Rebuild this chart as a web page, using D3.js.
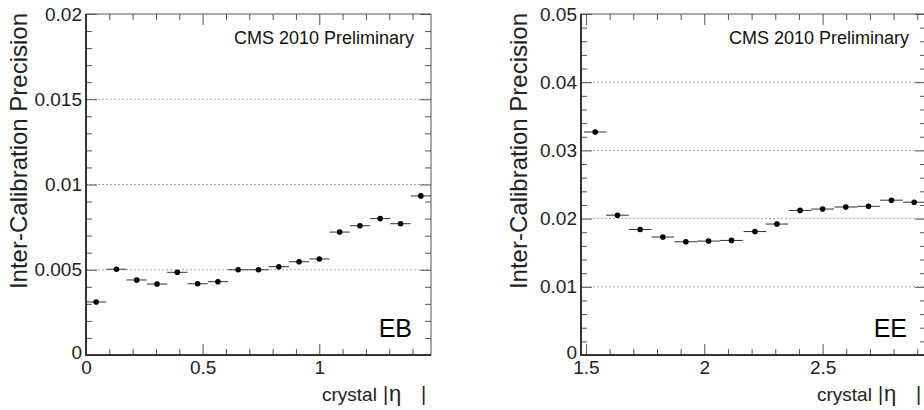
<!DOCTYPE html>
<html>
<head>
<meta charset="utf-8">
<script src="https://cdn.jsdelivr.net/npm/d3@7"></script>
<style>
  html, body { margin: 0; padding: 0; background: #fff; }
  svg { display: block; font-family: "Liberation Sans", Arial, Helvetica, sans-serif; }
</style>
</head>
<body>
<svg id="chart" width="924" height="410"></svg>
<script>
// Barrel (EB): bin centres in |eta| and inter-calibration precision
const ebEta = [0.0435, 0.1305, 0.2175, 0.3045, 0.3915, 0.4785, 0.5655, 0.6525, 0.7395,
               0.8265, 0.9135, 1.0005, 1.0875, 1.1745, 1.2615, 1.3485, 1.4355];
const ebPrecision = [0.00311, 0.00503, 0.00440, 0.00416, 0.00485, 0.00418, 0.00430, 0.00500, 0.00500,
                     0.00518, 0.00547, 0.00563, 0.00721, 0.00758, 0.00800, 0.00770, 0.00933];
const ebHalfBin = 0.0435;

// Endcap (EE): bin centres in |eta| and inter-calibration precision
const eeEta = [1.539, 1.633, 1.729, 1.825, 1.922, 2.018, 2.115, 2.214, 2.307, 2.405,
               2.500, 2.598, 2.694, 2.791, 2.887];
const eePrecision = [0.0327, 0.0205, 0.0184, 0.0173, 0.0166, 0.0167, 0.0168, 0.0181, 0.0192, 0.0212,
                     0.0214, 0.0217, 0.0218, 0.0227, 0.0224];
const eeHalfBin = 0.048;

// Axis ticks
const ebXMajor = [0, 0.5, 1];
const ebXMajorLabels = ["0", "0.5", "1"];
const ebXMinor = [0.1, 0.2, 0.3, 0.4, 0.6, 0.7, 0.8, 0.9, 1.1, 1.2, 1.3, 1.4];
const ebYMajor = [0, 0.005, 0.01, 0.015, 0.02];
const ebYMajorLabels = ["0", "0.005", "0.01", "0.015", "0.02"];
const ebYMinor = [0.001, 0.002, 0.003, 0.004, 0.006, 0.007, 0.008, 0.009, 0.011, 0.012,
                  0.013, 0.014, 0.016, 0.017, 0.018, 0.019];

const eeXMajor = [1.5, 2, 2.5];
const eeXMajorLabels = ["1.5", "2", "2.5"];
const eeXMinor = [1.6, 1.7, 1.8, 1.9, 2.1, 2.2, 2.3, 2.4, 2.6, 2.7, 2.8, 2.9];
const eeYMajor = [0, 0.01, 0.02, 0.03, 0.04, 0.05];
const eeYMajorLabels = ["0", "0.01", "0.02", "0.03", "0.04", "0.05"];
const eeYMinor = [0.002, 0.004, 0.006, 0.008, 0.012, 0.014, 0.016, 0.018, 0.022, 0.024, 0.026, 0.028,
                  0.032, 0.034, 0.036, 0.038, 0.042, 0.044, 0.046, 0.048];

const panels = [
  {
    eta: ebEta, prec: ebPrecision, half: ebHalfBin,
    xDomain: [0, 1.479], yDomain: [0, 0.02],
    left: 86, top: 14, width: 345, height: 341,
    xMajor: ebXMajor, xLabels: ebXMajorLabels, xMinor: ebXMinor,
    yMajor: ebYMajor, yLabels: ebYMajorLabels, yMinor: ebYMinor,
    yTitleX: 27, region: "EB"
  },
  {
    eta: eeEta, prec: eePrecision, half: eeHalfBin,
    xDomain: [1.479, 2.937], yDomain: [0, 0.05],
    left: 581, top: 14, width: 345, height: 341,
    xMajor: eeXMajor, xLabels: eeXMajorLabels, xMinor: eeXMinor,
    yMajor: eeYMajor, yLabels: eeYMajorLabels, yMinor: eeYMinor,
    yTitleX: 527, region: "EE"
  }
];

const svg = d3.select("#chart");
const MAJOR = 11, MINOR = 6;
const FONT = "'Liberation Sans', Arial, Helvetica, sans-serif";

panels.forEach(p => {
  const x = d3.scaleLinear().domain(p.xDomain).range([p.left, p.left + p.width]);
  const y = d3.scaleLinear().domain(p.yDomain).range([p.top + p.height, p.top]);
  const g = svg.append("g");
  const bottom = p.top + p.height, right = p.left + p.width;

  // dotted horizontal grid at the inner major ticks
  g.append("g").selectAll("line")
    .data(p.yMajor.slice(1, -1))
    .join("line")
    .attr("x1", p.left).attr("x2", right)
    .attr("y1", d => y(d)).attr("y2", d => y(d))
    .attr("stroke", "#a8a8a8").attr("stroke-width", 1)
    .attr("stroke-dasharray", "2,2");

  // axes with inward ticks
  const fmtY = d => p.yLabels[p.yMajor.indexOf(d)];
  const fmtX = d => p.xLabels[p.xMajor.indexOf(d)];

  const axes = [
    { a: d3.axisLeft(y).tickValues(p.yMajor).tickFormat(fmtY).tickSizeInner(-MAJOR).tickSizeOuter(0).tickPadding(4), t: `translate(${p.left},0)`, kind: "y" },
    { a: d3.axisLeft(y).tickValues(p.yMinor).tickFormat("").tickSizeInner(-MINOR).tickSizeOuter(0), t: `translate(${p.left},0)` },
    { a: d3.axisRight(y).tickValues(p.yMajor).tickFormat("").tickSizeInner(-MAJOR).tickSizeOuter(0), t: `translate(${right},0)` },
    { a: d3.axisRight(y).tickValues(p.yMinor).tickFormat("").tickSizeInner(-MINOR).tickSizeOuter(0), t: `translate(${right},0)` },
    { a: d3.axisBottom(x).tickValues(p.xMajor).tickFormat(fmtX).tickSizeInner(-MAJOR).tickSizeOuter(0).tickPadding(5.5), t: `translate(0,${bottom})` },
    { a: d3.axisBottom(x).tickValues(p.xMinor).tickFormat("").tickSizeInner(-MINOR).tickSizeOuter(0), t: `translate(0,${bottom})` },
    { a: d3.axisTop(x).tickValues(p.xMajor).tickFormat("").tickSizeInner(-MAJOR).tickSizeOuter(0), t: `translate(0,${p.top})` },
    { a: d3.axisTop(x).tickValues(p.xMinor).tickFormat("").tickSizeInner(-MINOR).tickSizeOuter(0), t: `translate(0,${p.top})` }
  ];
  axes.forEach(ax => {
    const ag = g.append("g").attr("transform", ax.t).call(ax.a);
    ag.select(".domain").remove();
    ag.selectAll(".tick line").attr("stroke", "#555").attr("stroke-width", 1);
    ag.selectAll("text")
      .attr("font-family", FONT)
      .attr("font-size", 19).attr("fill", "#222");
    if (ax.kind === "y") {
      // lift the zero label a little off the x-axis labels
      ag.selectAll(".tick").filter(d => d === 0).select("text").attr("y", -3);
    }
  });

  // frame
  g.append("rect")
    .attr("x", p.left).attr("y", p.top).attr("width", p.width).attr("height", p.height)
    .attr("fill", "none").attr("stroke", "#555").attr("stroke-width", 1);
  g.append("line").attr("x1", p.left).attr("x2", p.left).attr("y1", p.top).attr("y2", bottom)
    .attr("stroke", "#333").attr("stroke-width", 2);
  g.append("line").attr("x1", p.left - 1).attr("x2", right).attr("y1", bottom).attr("y2", bottom)
    .attr("stroke", "#333").attr("stroke-width", 2);

  // horizontal bin-width bars and markers
  const pts = p.eta.map((e, i) => ({ e, v: p.prec[i] }));
  const clip = v => Math.max(p.xDomain[0], Math.min(p.xDomain[1], v));
  g.append("g").selectAll("line")
    .data(pts).join("line")
    .attr("x1", d => x(clip(d.e - p.half))).attr("x2", d => x(clip(d.e + p.half)))
    .attr("y1", d => y(d.v)).attr("y2", d => y(d.v))
    .attr("stroke", "#333").attr("stroke-width", 1);
  g.append("g").selectAll("circle")
    .data(pts).join("circle")
    .attr("cx", d => x(d.e)).attr("cy", d => y(d.v)).attr("r", 2.8)
    .attr("fill", "#000");

  // labels
  g.append("text")
    .attr("x", right - 17).attr("y", 44)
    .attr("text-anchor", "end").attr("font-size", 18).attr("fill", "#111")
    .text("CMS 2010 Preliminary");
  g.append("text")
    .attr("x", right - 19).attr("y", 337)
    .attr("text-anchor", "end").attr("font-size", 25).attr("fill", "#000")
    .text(p.region);

  // y title
  g.append("text")
    .attr("transform", `translate(${p.yTitleX},${p.top + 137}) rotate(-90)`)
    .attr("text-anchor", "middle").attr("font-size", 24).attr("fill", "#222")
    .text("Inter-Calibration Precision");

  // x title: crystal |η|
  const xt = g.append("text").attr("y", 401).attr("font-size", 19).attr("fill", "#222");
  xt.append("tspan").attr("x", right - 109).text("crystal");
  xt.append("tspan").attr("x", right - 48).attr("font-size", 20).text("|");
  xt.append("tspan").attr("x", right - 42).attr("font-size", 22).text("η");
  xt.append("tspan").attr("x", right - 10).attr("font-size", 20).text("|");
});
</script>
</body>
</html>
